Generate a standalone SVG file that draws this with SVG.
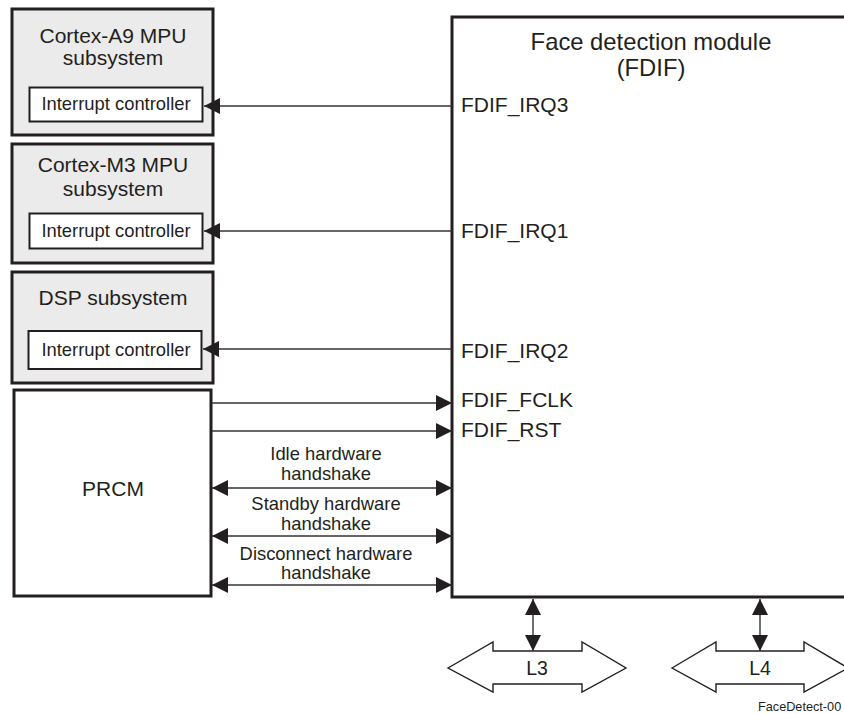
<svg xmlns="http://www.w3.org/2000/svg" width="844" height="714" viewBox="0 0 844 714">
<style>
text{font-family:"Liberation Sans",Arial,sans-serif;fill:#231f20}
.sub{fill:#ebebeb;stroke:#231f20;stroke-width:3}
.inner{fill:#fff;stroke:#231f20;stroke-width:2}
.big{fill:#fff;stroke:#231f20;stroke-width:3}
.t21{font-size:21px}
.t18{font-size:18.4px}
.c{text-anchor:middle}
.ln{stroke:#333;stroke-width:1.4;fill:none}
.bus{fill:#fff;stroke:#231f20;stroke-width:1.4}
</style>
<defs>
<marker id="ah" markerUnits="userSpaceOnUse" markerWidth="18" markerHeight="16" refX="16" refY="8" orient="auto-start-reverse" viewBox="0 0 18 16">
<path d="M0,0 L16,8 L0,16 Z" fill="#231f20"/>
</marker>
</defs>
<g id="cortexA9">
<rect class="sub" x="12" y="9" width="201" height="126"/>
<text class="t21 c" x="113" y="43">Cortex-A9 MPU</text>
<text class="t21 c" x="113" y="65">subsystem</text>
<rect class="inner" x="29.5" y="87.5" width="173" height="34"/>
<text class="t18 c" x="116" y="110">Interrupt controller</text>
</g>
<g id="cortexM3">
<rect class="sub" x="12" y="144" width="201" height="119"/>
<text class="t21 c" x="113" y="172">Cortex-M3 MPU</text>
<text class="t21 c" x="113" y="196">subsystem</text>
<rect class="inner" x="29.5" y="213.5" width="173" height="35"/>
<text class="t18 c" x="116" y="237">Interrupt controller</text>
</g>
<g id="dsp">
<rect class="sub" x="12" y="272" width="201" height="111"/>
<text class="t21 c" x="113" y="305">DSP subsystem</text>
<rect class="inner" x="28.5" y="331" width="173" height="38"/>
<text class="t18 c" x="116" y="356">Interrupt controller</text>
</g>
<g id="prcm">
<rect class="big" x="14" y="390" width="197" height="206"/>
<text class="t21 c" x="113" y="496">PRCM</text>
</g>
<g id="fdif">
<rect class="big" x="452" y="17" width="400" height="580"/>
<text class="c" style="font-size:23.8px" x="651" y="50">Face detection module</text>
<text class="c" style="font-size:23.8px" x="651" y="76">(FDIF)</text>
<text class="t21" x="461" y="112">FDIF_IRQ3</text>
<text class="t21" x="461" y="238">FDIF_IRQ1</text>
<text class="t21" x="461" y="358">FDIF_IRQ2</text>
<text class="t21" x="461" y="407">FDIF_FCLK</text>
<text class="t21" x="461" y="437">FDIF_RST</text>
</g>
<g id="l3">
<path class="bus" d="M448,668 L493,642 L493,651 L582,651 L582,642 L626,668 L582,692 L582,684 L493,684 L493,692 Z"/>
<text class="c" style="font-size:19.5px" x="537" y="675">L3</text>
</g>
<g id="l4">
<path class="bus" d="M672,668 L716,642 L716,651 L804,651 L804,642 L848,668 L804,692 L804,684 L716,684 L716,692 Z"/>
<text class="c" style="font-size:19.5px" x="760" y="675">L4</text>
</g>
<g id="connectors">
<line class="ln" x1="452" y1="106" x2="204" y2="106" marker-end="url(#ah)"/>
<line class="ln" x1="452" y1="231" x2="204" y2="231" marker-end="url(#ah)"/>
<line class="ln" x1="452" y1="349" x2="203" y2="349" marker-end="url(#ah)"/>
<line class="ln" x1="212" y1="403" x2="452" y2="403" marker-end="url(#ah)"/>
<line class="ln" x1="212" y1="431" x2="452" y2="431" marker-end="url(#ah)"/>
<line class="ln" x1="212" y1="488" x2="452" y2="488" marker-start="url(#ah)" marker-end="url(#ah)"/>
<line class="ln" x1="212" y1="536" x2="452" y2="536" marker-start="url(#ah)" marker-end="url(#ah)"/>
<line class="ln" x1="212" y1="585" x2="452" y2="585" marker-start="url(#ah)" marker-end="url(#ah)"/>
<line class="ln" x1="533" y1="599" x2="533" y2="651" marker-start="url(#ah)" marker-end="url(#ah)"/>
<line class="ln" x1="760" y1="599" x2="760" y2="651" marker-start="url(#ah)" marker-end="url(#ah)"/>
<text class="t18 c" x="326" y="460">Idle hardware</text>
<text class="t18 c" x="326" y="480">handshake</text>
<text class="t18 c" x="326" y="510">Standby hardware</text>
<text class="t18 c" x="326" y="530">handshake</text>
<text class="t18 c" x="326" y="560">Disconnect hardware</text>
<text class="t18 c" x="326" y="579">handshake</text>
</g>
<text style="font-size:12.7px" x="758" y="711">FaceDetect-00</text>
</svg>
